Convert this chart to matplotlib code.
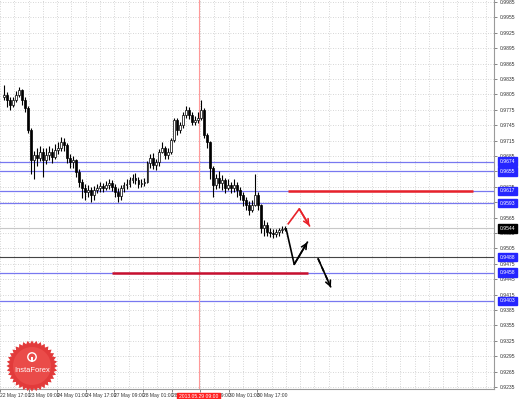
import matplotlib.pyplot as plt
import matplotlib.transforms as mtransforms
import numpy as np
from matplotlib.patches import Polygon, Circle, Rectangle

plt.rcParams['font.family'] = ['Liberation Sans', 'DejaVu Sans']

# candles (open = previous close)
first_open = 0.9800
closes = [0.9804, 0.9794, 0.9784, 0.9794, 0.9804, 0.9814, 0.9794, 0.9779, 0.9736, 0.9677,
          0.9687, 0.9681, 0.9693, 0.9677, 0.9687, 0.9693, 0.9683, 0.9697, 0.9700, 0.9712,
          0.9706, 0.9681, 0.9673, 0.9677, 0.9654, 0.9634, 0.9623, 0.9615, 0.9619, 0.9609,
          0.9619, 0.9623, 0.9627, 0.9623, 0.9629, 0.9632, 0.9625, 0.9615, 0.9607, 0.9623,
          0.9629, 0.9630, 0.9638, 0.9642, 0.9638, 0.9630, 0.9632, 0.9634, 0.9671, 0.9681,
          0.9667, 0.9673, 0.9693, 0.9700, 0.9687, 0.9693, 0.9716, 0.9755, 0.9736, 0.9745,
          0.9765, 0.9775, 0.9765, 0.9751, 0.9755, 0.9759, 0.9775, 0.9726, 0.9712, 0.9661,
          0.9629, 0.9642, 0.9632, 0.9638, 0.9623, 0.9629, 0.9623, 0.9629, 0.9619, 0.9609,
          0.9599, 0.9590, 0.9580, 0.9590, 0.9609, 0.9590, 0.9545, 0.9551, 0.9537, 0.9535,
          0.9533, 0.9537, 0.9541, 0.9543, 0.9544]
highs = [0.9823, 0.9810, 0.9800, 0.9800, 0.9812, 0.9820, 0.9816, 0.9800, 0.9782, 0.9740,
         0.9695, 0.9700, 0.9705, 0.9700, 0.9700, 0.9705, 0.9700, 0.9708, 0.9712, 0.9722,
         0.9720, 0.9710, 0.9688, 0.9685, 0.9680, 0.9660, 0.9640, 0.9630, 0.9628, 0.9625,
         0.9627, 0.9630, 0.9634, 0.9632, 0.9637, 0.9640, 0.9638, 0.9630, 0.9622, 0.9628,
         0.9635, 0.9640, 0.9645, 0.9650, 0.9652, 0.9645, 0.9640, 0.9642, 0.9675, 0.9688,
         0.9690, 0.9680, 0.9698, 0.9712, 0.9705, 0.9700, 0.9720, 0.9760, 0.9760, 0.9752,
         0.9770, 0.9782, 0.9780, 0.9770, 0.9762, 0.9770, 0.9795, 0.9778, 0.9730, 0.9715,
         0.9665, 0.9650, 0.9655, 0.9648, 0.9642, 0.9640, 0.9635, 0.9640, 0.9635, 0.9625,
         0.9615, 0.9605, 0.9598, 0.9600, 0.9650, 0.9615, 0.9592, 0.9560, 0.9556, 0.9545,
         0.9542, 0.9542, 0.9545, 0.9548, 0.9548]
lows = [0.9794, 0.9780, 0.9775, 0.9780, 0.9790, 0.9800, 0.9785, 0.9770, 0.9730, 0.9650,
        0.9640, 0.9665, 0.9675, 0.9645, 0.9670, 0.9678, 0.9672, 0.9680, 0.9688, 0.9695,
        0.9695, 0.9672, 0.9662, 0.9662, 0.9645, 0.9625, 0.9603, 0.9600, 0.9605, 0.9596,
        0.9600, 0.9612, 0.9615, 0.9614, 0.9618, 0.9620, 0.9617, 0.9605, 0.9595, 0.9600,
        0.9615, 0.9620, 0.9625, 0.9632, 0.9630, 0.9622, 0.9625, 0.9626, 0.9632, 0.9662,
        0.9660, 0.9658, 0.9665, 0.9690, 0.9680, 0.9680, 0.9688, 0.9712, 0.9725, 0.9730,
        0.9740, 0.9760, 0.9758, 0.9745, 0.9745, 0.9750, 0.9755, 0.9720, 0.9700, 0.9640,
        0.9605, 0.9620, 0.9622, 0.9618, 0.9612, 0.9618, 0.9612, 0.9615, 0.9605, 0.9600,
        0.9588, 0.9580, 0.9570, 0.9575, 0.9588, 0.9580, 0.9535, 0.9530, 0.9530, 0.9528,
        0.9526, 0.9528, 0.9530, 0.9535, 0.9538]

blue_levels = [0.9674, 0.9655, 0.9617, 0.9593, 0.9458, 0.9403]
dark_level = 0.9488
last_price = 0.9544
price_ticks = [round(0.9235 + 0.003 * k, 4) for k in range(26)]

# red resistance/support segments: (level, start bar, end bar, colour)
red_segments = [(0.9617, 95.2, 157.2, '#e8222a'), (0.9458, 36.2, 101.8, '#c8102e')]

time_labels = ['22 May 17:00', '23 May 09:00', '24 May 01:00', '24 May 17:00', '27 May 09:00',
               '28 May 01:00', '28 May 17:00', '29 May 09:00', '30 May 01:00', '30 May 17:00']
vline_bar = 65.2
vline_label = '2013.05.29 09:00'

# forecast arrows (bar, price)
black_path = [(94.5, 0.9543), (97.2, 0.9474), (101.6, 0.9517)]
black_dash = [(105.2, 0.9485), (109.5, 0.9429)]
red_path = [(95.2, 0.9553), (98.9, 0.9582), (102.3, 0.9549)]

W, H = 519, 399
fig = plt.figure(figsize=(W / 100, H / 100), dpi=100)
ax = fig.add_axes([0, 10 / H, 494 / W, 389 / H])
ax.set_facecolor('white')

ypx = 5133.0  # pixels per price unit
ax.set_xlim(-0.5, (494 - 1.5) / 3)
ax.set_ylim(0.9235 - 2 / ypx, 0.9235 + 387 / ypx)

# grid
grid_kw = dict(color='#c9c9c9', lw=0.6, ls=(0, (1, 2)))
for p in price_ticks:
    ax.axhline(p, zorder=0, **grid_kw)
lab_x = [(-2.75 + 28.75 * k - 1.5) / 3 for k in range(len(time_labels))]
step = 28.75 / 6
gx = lab_x[0] + step * np.arange(0, 40)
for g in gx:
    ax.axvline(g, zorder=0, **grid_kw)

# level lines
for lv in blue_levels:
    ax.axhline(lv, color='#7878f0', lw=0.9, zorder=1)
ax.axhline(dark_level, color='#444444', lw=0.8, zorder=1)
ax.axhline(last_price, color='#c8c8c8', lw=0.8, zorder=1)
ax.axvline(vline_bar, color='#ff9a9a', lw=0.8, zorder=1)

for lv, x0, x1, col in red_segments:
    ax.plot([x0, x1], [lv, lv], color=col, lw=1.8, solid_capstyle='butt', zorder=3)

# candles
opens = [first_open] + closes[:-1]
idx = np.arange(len(closes))
ax.vlines(idx, lows, highs, color='black', lw=0.8, zorder=4)
for i in idx:
    o, c = opens[i], closes[i]
    up = c >= o
    ax.bar(i, max(abs(c - o), 0.00015), bottom=min(o, c), width=0.62,
           color='white' if up else 'black', edgecolor='black', linewidth=0.5, zorder=5)

# arrows
def path_arrow(pts, color, ls='-'):
    xs, ys = zip(*pts)
    ax.plot(xs, ys, color=color, lw=1.2, ls=ls, zorder=6)
    ax.annotate('', xy=pts[-1], xytext=pts[-2],
                arrowprops=dict(arrowstyle='->', color=color, lw=1.2,
                                mutation_scale=9, shrinkA=0, shrinkB=0), zorder=6)

path_arrow(black_path, 'black')
path_arrow(black_dash, 'black', ls=(0, (3, 2.5)))
path_arrow(red_path, '#e8222a')

# axes frame
for s in ['top', 'left']:
    ax.spines[s].set_visible(False)
for s in ['right', 'bottom']:
    ax.spines[s].set_color('#9a9a9a')
    ax.spines[s].set_linewidth(0.8)

ax.yaxis.tick_right()
ax.set_yticks(price_ticks)
ax.set_yticklabels(['%.4f' % p for p in price_ticks])
ax.tick_params(axis='y', length=2, width=0.5, pad=2, labelsize=3.6,
               labelcolor='#333333', color='#555555')
ax.set_xticks(lab_x)
ax.set_xticklabels(time_labels)
ax.tick_params(axis='x', length=2, width=0.5, pad=1, labelsize=3.6,
               labelcolor='#333333', color='#555555')
for t in ax.get_xticklabels():
    t.set_ha('left')

# price boxes on the right axis
tr = mtransforms.blended_transform_factory(ax.transAxes, ax.transData)
box_kw = dict(transform=tr, fontsize=3.6, va='center', ha='left', color='white', zorder=10,
              clip_on=False)
for lv in blue_levels + [dark_level]:
    ax.text(1.012, lv, '%.4f' % lv,
            bbox=dict(boxstyle='square,pad=0.35', fc='#2525ff', ec='#2525ff'), **box_kw)
ax.text(1.012, last_price, '%.4f' % last_price,
        bbox=dict(boxstyle='square,pad=0.35', fc='black', ec='black'), **box_kw)

# red time label for the vertical line
trx = mtransforms.blended_transform_factory(ax.transData, ax.transAxes)
ax.text(vline_bar, -0.0135, vline_label, transform=trx, fontsize=3.6, color='white',
        ha='center', va='top', zorder=10, clip_on=False,
        bbox=dict(boxstyle='square,pad=0.35', fc='#ff2020', ec='#ff2020'))

# InstaForex badge
ov = fig.add_axes([0, 0, 1, 1], facecolor='none')
ov.set_xlim(0, W)
ov.set_ylim(H, 0)
ov.axis('off')
cx, cy = 32, 366
n = 36
ang = np.linspace(0, 2 * np.pi, 2 * n, endpoint=False)
rad = np.where(np.arange(2 * n) % 2 == 0, 25.5, 22.5)
ov.add_patch(Polygon(np.c_[cx + rad * np.cos(ang), cy + rad * np.sin(ang)],
                     closed=True, fc='#e23b3b', ec='none', zorder=1))
ov.add_patch(Circle((cx, cy), 19, fc='#ea4b49', ec='none', zorder=2))
ov.add_patch(Circle((cx, cy - 9), 4.2, fc='none', ec='white', lw=1.0, zorder=3))
ov.add_patch(Rectangle((cx - 0.6, cy - 9), 1.2, 4.5, fc='white', ec='none', zorder=3))
ov.text(cx, cy + 5, 'InstaForex', color='white', fontsize=5.4, ha='center', va='center',
        zorder=4)

fig.savefig('out.png', dpi=100)
